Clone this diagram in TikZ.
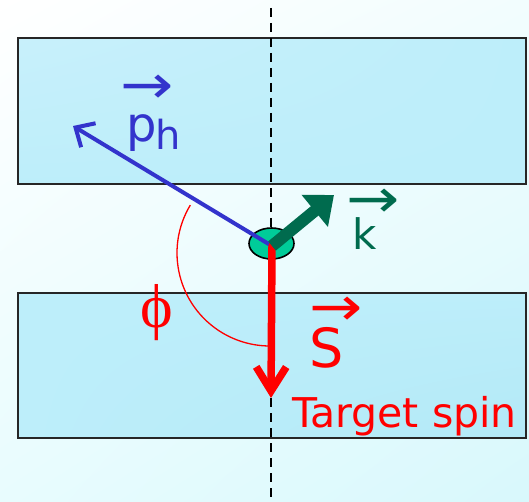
\documentclass[tikz,border=0pt]{standalone}
\usepackage{fontspec}
\setmainfont{DejaVu Sans}
\newfontfamily\phifont{Liberation Serif}
\usetikzlibrary{arrows.meta,shapes.geometric,shadings}
\definecolor{pblue}{HTML}{3333CC}
\definecolor{kgreen}{HTML}{006B4E}
\definecolor{dotgreen}{HTML}{00CC99}
\definecolor{spinred}{HTML}{FF0000}
\definecolor{bgul}{HTML}{FFFFFF}
\definecolor{bgur}{HTML}{F2FDFE}
\definecolor{bgll}{HTML}{E8FCFE}
\definecolor{bglr}{HTML}{D8F8FC}
\definecolor{slabA}{HTML}{C8F0FB}
\definecolor{slabB}{HTML}{BDEEFA}
\definecolor{slabC}{HTML}{B3E9F7}
% letter with a vector arrow above it
\newcommand\vecover[3]{\hspace*{#1}\rlap{\raisebox{#2}{\fontsize{54}{54}\selectfont\scalebox{1.18}[1]{→}}}\hspace*{-#1}#3}

\begin{document}
\begin{tikzpicture}[x=1pt, y=-1pt,
    slab/.style={draw=black!85, line width=1.8pt},
    lab/.style={anchor=base west, inner sep=0pt},
    vec/.style={line cap=round, line join=round}
]
    \useasboundingbox (0,0) rectangle (529,502);
    \shade[upper left=bgul, upper right=bgur, lower left=bgll, lower right=bglr]
        (0,0) rectangle (529,502);

    % the two slabs
    \shade[slab, upper left=slabA, upper right=slabB, lower left=slabB, lower right=slabB]
        (18,38) rectangle (526,184);
    \shade[slab, upper left=slabB, upper right=slabB, lower left=slabB, lower right=slabC]
        (18,293) rectangle (526,438);

    \coordinate (axistop) at (271,8);
    \coordinate (axisbot) at (271,502);
    \draw[dash pattern=on 9pt off 6pt, line width=1.8pt] (axistop) -- (axisbot);

    \node[ellipse, draw, line width=1.6pt, fill=dotgreen, minimum width=45pt,
          minimum height=31pt, inner sep=0pt] (target) at (271.5,243.5) {};
    \coordinate (o) at (272,246);
    \coordinate (phtip) at (73,126);
    \coordinate (ktip) at (334,195);
    \coordinate (stip) at (271,398);
    \coordinate (phistart) at (190.3,205.1);

    \draw[spinred, line width=1.3pt] (phistart) arc[start angle=211, end angle=90, radius=93];

    \draw[vec, pblue, line width=4pt, -{Straight Barb[length=15pt, width=28pt]}] (o) -- (phtip);
    \draw[vec, spinred, line width=7.5pt, -{Straight Barb[length=24pt, width=30pt]}] (o) -- (stip);
    \draw[kgreen, line width=12pt, -{Triangle[length=25pt, width=40pt]}] (o) -- (ktip);

    % labels
    \node[lab, text=pblue] (phlabel) at (126,142)
        {\fontsize{48}{48}\selectfont\vecover{-6pt}{38pt}{p}\kern-1pt\raisebox{-8pt}{\fontsize{40}{40}\selectfont h}};
    \node[lab, text=kgreen] (klabel) at (352,250)
        {\fontsize{42}{42}\selectfont\vecover{-6pt}{32pt}{k}};
    \node[lab, text=spinred] (slabel) at (309,367)
        {\fontsize{54}{54}\selectfont\vecover{0pt}{42pt}{S}};
    \node[text=spinred, inner sep=0pt] (philabel) at (157,313)
        {\fontsize{62}{62}\phifont\selectfont ϕ};
    \node[lab, text=spinred] (spinlabel) at (292,427)
        {\fontsize{41}{41}\selectfont Target spin};
\end{tikzpicture}
\end{document}
